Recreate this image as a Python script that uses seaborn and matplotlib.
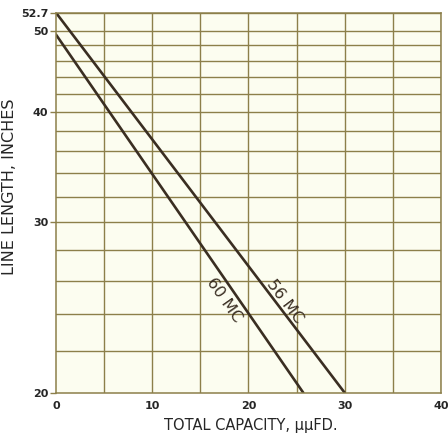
import numpy as np
import pandas as pd
import matplotlib
matplotlib.use("Agg")
import matplotlib.pyplot as plt
import seaborn as sns

# data (end points of each straight line)
cap_56 = [0, 30]
len_56 = [52.7, 20]
cap_60 = [0, 25.7]
len_60 = [49.5, 20]

x_ticks = [0, 10, 20, 30, 40]
y_ticks = [20, 30, 40, 50, 52.7]
y_tick_labels = ["20", "30", "40", "50", "52.7"]
y_grid = [22, 24, 26, 28, 30, 32, 34, 36, 38, 40, 42, 44, 46, 48, 50, 52.7]
x_grid = [5, 10, 15, 20, 25, 30, 35, 40]

paper = "#fcfdf0"
grid_col = "#8c7f4a"
ink = "#3a2e22"


# the printed chart's length axis is close to a y**-0.25 scale
def fwd(y):
    y = np.clip(np.asarray(y, dtype=float), 1e-6, None)
    return -(y ** -0.25)


def inv(v):
    v = np.clip(-np.asarray(v, dtype=float), 1e-6, None)
    return v ** -4.0


sns.set_theme(style="white")
plt.rcParams["font.family"] = ["DejaVu Sans"]

fig = plt.figure(figsize=(4.48, 4.33), dpi=100)
fig.patch.set_facecolor("white")
ax = fig.add_axes([0.125, 0.0931, 0.859, 0.8775])
ax.set_facecolor(paper)

df = pd.concat([
    pd.DataFrame({"cap": cap_56, "len": len_56, "freq": "56 MC"}),
    pd.DataFrame({"cap": cap_60, "len": len_60, "freq": "60 MC"}),
])
sns.lineplot(data=df, x="cap", y="len", units="freq", estimator=None,
             color=ink, lw=1.9, ax=ax, legend=False)

ax.set_yscale("function", functions=(fwd, inv))
ax.set_xlim(0, 40)
ax.set_ylim(20, 52.7)

for y in y_grid:
    ax.axhline(y, color=grid_col, lw=1.0, zorder=0)
for x in x_grid:
    ax.axvline(x, color=grid_col, lw=1.0, zorder=0)

ax.set_xticks(x_ticks)
ax.set_xticklabels([str(v) for v in x_ticks], fontsize=8, fontweight="bold")
ax.set_yticks(y_ticks)
ax.set_yticklabels(y_tick_labels, fontsize=8, fontweight="bold")
ax.yaxis.set_minor_locator(matplotlib.ticker.NullLocator())
ax.tick_params(axis="y", which="major", length=4.5, width=1.0, color=grid_col,
               direction="out", left=True, pad=1)
ax.tick_params(axis="x", which="major", length=0, pad=6)

for s in ax.spines.values():
    s.set_color(grid_col)
    s.set_linewidth(1.1)

ax.set_xlabel("TOTAL CAPACITY, μμFD.", fontsize=10.5, va="center")
ax.set_ylabel("LINE LENGTH, INCHES", fontsize=11.5)
ax.xaxis.set_label_coords(0.506, -0.087)
ax.yaxis.set_label_coords(-0.101, 0.541)

ax.text(23.8, 24.7, "56 MC", rotation=-53, fontsize=11.5, color=ink,
        ha="center", va="center")
ax.text(17.5, 24.8, "60 MC", rotation=-55, fontsize=11.5, color=ink,
        ha="center", va="center")

fig.savefig("out.png", dpi=100, facecolor="white")
